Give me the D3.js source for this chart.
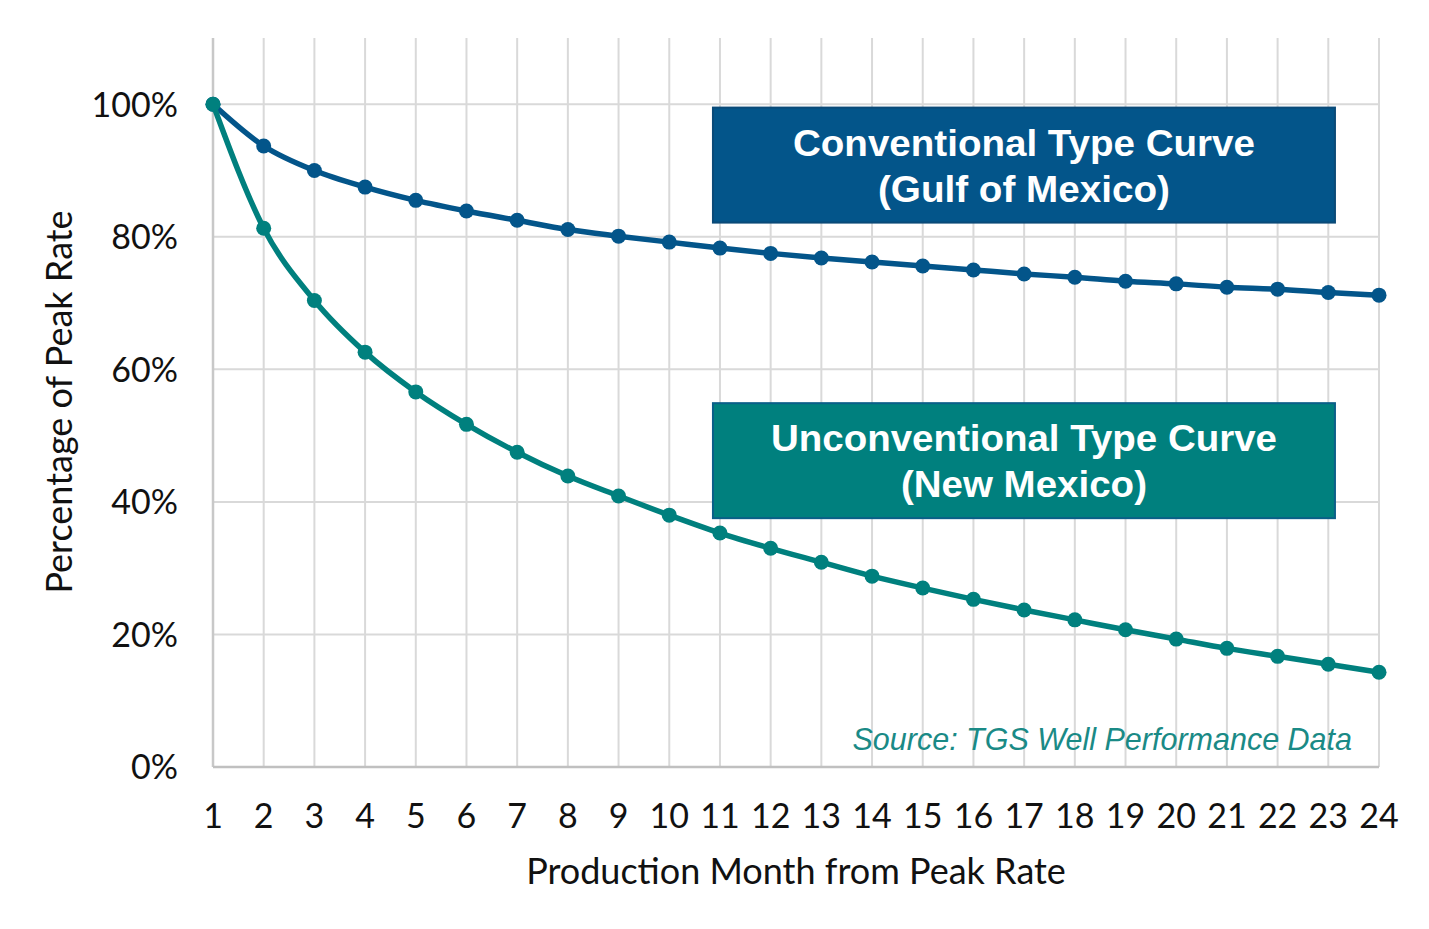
<!DOCTYPE html>
<html><head><meta charset="utf-8">
<script src="https://cdn.jsdelivr.net/npm/d3@7"></script>
<style>body{margin:0;background:#fff}</style>
</head><body>
<svg id="c" width="1429" height="929"></svg>
<script>
const months = d3.range(1, 25);
const conventional = [100,93.7,90.0,87.5,85.5,83.9,82.5,81.1,80.1,79.2,78.3,77.5,76.8,76.2,75.6,75.0,74.4,73.9,73.3,72.9,72.4,72.1,71.6,71.2];
const unconventional = [100,81.3,70.4,62.6,56.6,51.7,47.5,43.9,40.9,38.0,35.3,33.0,30.9,28.8,27.0,25.3,23.7,22.2,20.7,19.3,17.9,16.7,15.5,14.3];
const yTicks = [0,20,40,60,80,100];
const labels = [
  {lines:["Conventional Type Curve","(Gulf of Mexico)"], widths:[462,292], color:"#03558a", border:"#0a4a78", top:99.5},
  {lines:["Unconventional Type Curve","(New Mexico)"], widths:[506,246], color:"#00807e", border:"#0a5f88", top:54.9}
];
const sourceText = "Source: TGS Well Performance Data";

const svg = d3.select("#c");
const L=213, R=1379, T=38, B=767;
const x = d3.scaleLinear().domain([1,24]).range([L,R]);
const y = d3.scaleLinear().domain([0,110]).range([B,T]);
const tickFont = "Lato, 'Open Sans', sans-serif";

// vertical grid
svg.append("g").selectAll("line").data(months).join("line")
  .attr("x1",d=>x(d)).attr("x2",d=>x(d)).attr("y1",y(110)).attr("y2",B)
  .attr("stroke","#d9d9d9").attr("stroke-width",2);
// horizontal grid
svg.append("g").selectAll("line").data(yTicks.filter(d=>d>0)).join("line")
  .attr("x1",L).attr("x2",R).attr("y1",d=>y(d)).attr("y2",d=>y(d))
  .attr("stroke","#d9d9d9").attr("stroke-width",2);
// axes lines
svg.append("line").attr("x1",L).attr("x2",L).attr("y1",y(110)).attr("y2",B).attr("stroke","#c8c8c8").attr("stroke-width",2.5);
svg.append("line").attr("x1",L).attr("x2",R).attr("y1",B).attr("y2",B).attr("stroke","#c0c0c0").attr("stroke-width",2.5);

// tick labels
svg.append("g").selectAll("text").data(yTicks).join("text")
  .attr("x",178).attr("y",d=>y(d)).attr("dy","0.36em").attr("text-anchor","end")
  .attr("font-family",tickFont).attr("font-size",34).attr("fill","#111")
  .text(d=>d+"%");
svg.append("g").selectAll("text").data(months).join("text")
  .attr("x",d=>x(d)).attr("y",828).attr("text-anchor","middle")
  .attr("font-family",tickFont).attr("font-size",34).attr("fill","#111")
  .text(d=>d);
svg.append("text").attr("x",796).attr("y",884).attr("text-anchor","middle")
  .attr("font-family",tickFont).attr("font-size",36).attr("fill","#111")
  .text("Production Month from Peak Rate");
svg.append("text").attr("transform","translate(72,402) rotate(-90)").attr("text-anchor","middle")
  .attr("font-family",tickFont).attr("font-size",36).attr("fill","#111")
  .text("Percentage of Peak Rate");

// boxes
const boxW = 622, boxH = 115;
labels.forEach(lb=>{
  const g = svg.append("g");
  const bx = x(11)-7, by = y(lb.top);
  g.append("rect").attr("x",bx).attr("y",by).attr("width",boxW).attr("height",boxH)
    .attr("fill",lb.color).attr("stroke",lb.border).attr("stroke-width",2);
  lb.lines.forEach((t,i)=>{
    g.append("text").attr("x",bx+boxW/2).attr("y",by+48+i*46).attr("text-anchor","middle")
      .attr("font-family","'Liberation Sans', Arial, sans-serif").attr("font-weight","bold")
      .attr("font-size",37).attr("fill","#fff")
      .attr("textLength",lb.widths[i]).attr("lengthAdjust","spacingAndGlyphs")
      .text(t);
  });
});

// series
const series = [
  {vals:conventional, color:"#03558a"},
  {vals:unconventional, color:"#00807e"}
];
const line = d3.line().x((d,i)=>x(months[i])).y(d=>y(d)).curve(d3.curveMonotoneX);
series.forEach(s=>{
  svg.append("path").datum(s.vals).attr("d",line).attr("fill","none")
    .attr("stroke",s.color).attr("stroke-width",5.5);
  svg.append("g").selectAll("circle").data(s.vals).join("circle")
    .attr("cx",(d,i)=>x(months[i])).attr("cy",d=>y(d)).attr("r",7.5).attr("fill",s.color);
});

svg.append("text").attr("x",1352).attr("y",750).attr("text-anchor","end")
  .attr("font-family","'Liberation Sans', Arial, sans-serif").attr("font-style","italic")
  .attr("font-size",30.5).attr("fill","#1a8a86").text(sourceText);
</script>
</body></html>
